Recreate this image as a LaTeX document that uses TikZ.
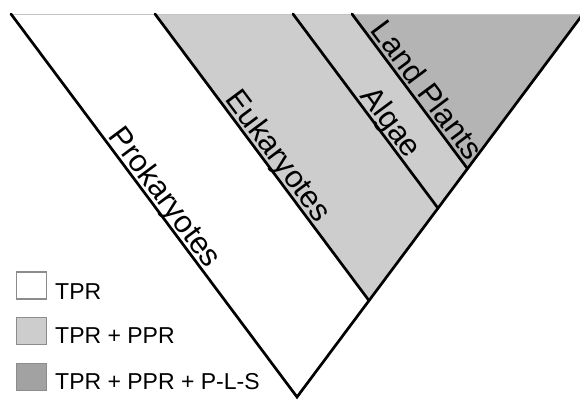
\documentclass[tikz,border=0pt]{standalone}
\usepackage{fontspec}
\setmainfont{Liberation Sans}
\definecolor{lightfill}{RGB}{205,205,205}
\definecolor{darkfill}{RGB}{180,180,180}
\definecolor{keydark}{RGB}{162,162,162}
\definecolor{keyedge}{RGB}{140,140,140}
\definecolor{topedge}{RGB}{195,195,195}
\tikzset{
  arm/.style={line width=2.7pt, black, line cap=round},
  lab/.style={sloped, above=4pt, inner sep=0pt, text depth=0pt, font=\fontsize{31}{36}\selectfont},
  legbox/.style={draw=keyedge, line width=1.3pt, minimum width=30pt, minimum height=27pt, inner sep=0pt},
  legtext/.style={anchor=base west, inner sep=0pt, font=\fontsize{23}{27}\selectfont}
}
\begin{document}
\begin{tikzpicture}[x=1pt,y=-1pt]
\useasboundingbox (0,0) rectangle (580,399);
\coordinate (V) at (297,397);
\coordinate (R) at (583,14);
\coordinate (tpro) at (11,14);
\coordinate (teuk) at (155,14);
\coordinate (talg) at (293,14);
\coordinate (tlan) at (352,14);
\coordinate (eeuk) at (intersection of teuk--441,397 and V--R);
\coordinate (ealg) at (intersection of talg--579,397 and V--R);
\coordinate (elan) at (intersection of tlan--638,397 and V--R);
\begin{scope}
\clip (0,0) rectangle (580,399);
\fill[lightfill] (teuk) -- (eeuk) -- (R) -- cycle;
\fill[darkfill] (tlan) -- (elan) -- (R) -- cycle;
\draw[topedge, line width=0.9pt] (tpro) -- (R);
\draw[arm] (tpro) -- (V) -- (R);
\draw[arm] (teuk) -- (eeuk);
\draw[arm] (talg) -- (ealg);
\draw[arm] (tlan) -- (elan);
\end{scope}
\path (tpro) -- (V) node[lab, pos=0.50] (lpro) {Prokaryotes};
\path (teuk) -- (eeuk) node[lab, pos=0.525] (leuk) {Eukaryotes};
\path (talg) -- (ealg) node[lab, pos=0.60] (lalg) {Algae};
\path (tlan) -- (elan) node[lab, pos=0.55] (llan) {Land Plants};
\node[legbox, fill=white] (k1) at (31.5,285.5) {};
\node[legbox, fill=lightfill] (k2) at (31.5,331) {};
\node[legbox, fill=keydark] (k3) at (31.5,377) {};
\node[legtext] (t1) at (55,299.3) {TPR};
\node[legtext] (t2) at (55,343.3) {TPR + PPR};
\node[legtext] (t3) at (55,389.3) {TPR + PPR + P-L-S};
\end{tikzpicture}
\end{document}
